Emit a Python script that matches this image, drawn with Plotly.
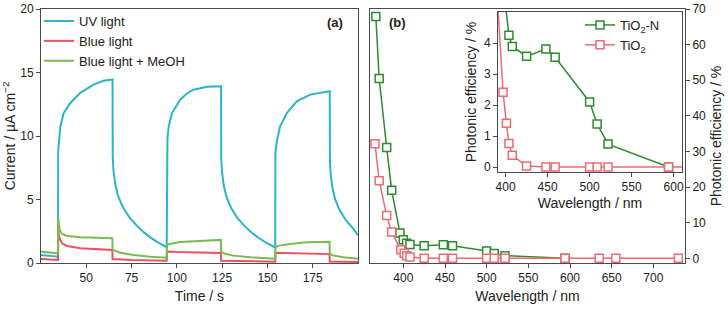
import plotly.graph_objects as go

# ---------------- Panel (a): photocurrent transients ----------------
uv_t = [25, 30, 34.4, 34.5, 34.8, 35.7, 37.5, 41.2, 46.7, 54.0, 59.5, 64.4,
        64.5, 64.6, 65.0, 66.0, 67.5, 70.0, 73.5, 77.5, 81.5, 85.5, 89.5, 94.4,
        94.5, 94.8, 95.5, 97.3, 101.8, 105.5, 109.2, 116.6, 124.3,
        124.4, 124.5, 124.9, 125.9, 127.4, 129.9, 133.4, 137.4, 141.4, 145.4, 149.4, 154.3,
        154.4, 155.2, 157.0, 160.7, 166.2, 173.6, 180.9, 184.3,
        184.4, 184.5, 184.9, 185.9, 187.4, 189.9, 193.4, 197.4, 200]
uv_i = [0.63, 0.56, 0.50, 8.9, 9.6, 10.76, 11.8, 12.6, 13.4, 14.05, 14.35, 14.45,
        14.45, 8.4, 7.3, 6.2, 5.3, 4.45, 3.65, 3.0, 2.45, 2.0, 1.62, 1.24,
        9.0, 9.8, 10.76, 11.8, 12.86, 13.35, 13.65, 13.87, 13.92,
        13.92, 8.3, 7.2, 6.1, 5.2, 4.35, 3.55, 2.9, 2.38, 1.95, 1.58, 1.22,
        8.7, 9.6, 10.76, 11.8, 12.73, 13.26, 13.47, 13.52,
        13.52, 8.1, 7.0, 5.9, 5.0, 4.15, 3.35, 2.7, 2.2]

blue_t = [25, 30, 34.4, 34.5, 35.3, 36.6, 39.4, 46.7, 55.9, 64.4,
          64.5, 75, 94.4, 94.5, 100, 110, 124.3, 124.4, 140, 154.3,
          154.4, 170, 184.3, 184.4, 200]
blue_i = [0.32, 0.28, 0.24, 2.47, 1.95, 1.55, 1.34, 1.16, 1.08, 1.03,
          0.32, 0.24, 0.18, 0.90, 0.86, 0.82, 0.78, 0.18, 0.12, 0.10,
          0.80, 0.74, 0.70, 0.12, 0.08]

meoh_t = [25, 30, 34.4, 34.5, 35.3, 36.6, 39.4, 46.7, 55.9, 64.4,
          64.5, 66, 68.8, 76.1, 85.3, 94.4,
          94.5, 96, 101.8, 112.9, 118.4, 124.3,
          124.4, 126, 131.2, 140.5, 154.3,
          154.4, 156, 162.5, 171.7, 184.3,
          184.4, 186, 192, 200]
meoh_i = [0.89, 0.82, 0.76, 3.53, 2.6, 2.29, 2.13, 2.03, 1.97, 1.95,
          1.08, 0.95, 0.81, 0.63, 0.50, 0.42,
          1.42, 1.50, 1.65, 1.76, 1.80, 1.82,
          0.89, 0.75, 0.58, 0.45, 0.34,
          1.24, 1.35, 1.50, 1.63, 1.68,
          0.76, 0.60, 0.45, 0.34]

# ---------------- Panel (b): photonic efficiency ----------------
tin_wl = [367, 371, 380, 386, 396, 400, 404, 408, 425, 448, 459, 500, 509, 522, 594]
tin_pe = [67.9, 50.5, 31.1, 19.1, 7.1, 5.2, 4.25, 3.89, 3.57, 3.81, 3.54, 2.1, 1.39, 0.74, 0.0]

tio_wl = [366, 371, 380, 386, 397, 401, 404, 408, 425, 448, 459, 500, 509, 522, 594, 635, 655, 730]
tio_pe = [32.2, 21.8, 12.0, 7.4, 2.41, 1.41, 0.76, 0.38, 0.03, 0.0, 0.0, 0.0, 0.0, 0.0, 0.0, 0.0, 0.0, 0.0]

a_xticks = [50, 75, 100, 125, 150, 175]
a_yticks = [0, 5, 10, 15, 20]
b_xticks = [400, 450, 500, 550, 600, 650, 700]
b_yticks = [0, 10, 20, 30, 40, 50, 60, 70]
in_xticks = [400, 450, 500, 550, 600]
in_yticks = [0, 1, 2, 3, 4]

C_UV = "#2ab4cb"
C_BL = "#e9525e"
C_ME = "#7aba54"
C_TN = "#2e8b2e"
C_TO = "#ec6b75"
FRAME = "#4a4a4a"
FONT = "Liberation Sans, Arial, sans-serif"

W, H = 728, 309

fig = go.Figure()

fig.add_trace(go.Scatter(x=uv_t, y=uv_i, mode="lines", name="UV light",
                         line=dict(color=C_UV, width=2), xaxis="x", yaxis="y", legend="legend"))
fig.add_trace(go.Scatter(x=blue_t, y=blue_i, mode="lines", name="Blue light",
                         line=dict(color=C_BL, width=2), xaxis="x", yaxis="y", legend="legend"))
fig.add_trace(go.Scatter(x=meoh_t, y=meoh_i, mode="lines", name="Blue light + MeOH",
                         line=dict(color=C_ME, width=2), xaxis="x", yaxis="y", legend="legend"))

mk = dict(symbol="square", size=8, color="white")
# main panel (b)
fig.add_trace(go.Scatter(x=tin_wl, y=tin_pe, mode="lines+markers", showlegend=False,
                         line=dict(color=C_TN, width=1.5),
                         marker=dict(**mk, line=dict(color=C_TN, width=1.5)),
                         xaxis="x2", yaxis="y2"))
fig.add_trace(go.Scatter(x=tio_wl, y=tio_pe, mode="lines+markers", showlegend=False,
                         line=dict(color=C_TO, width=1.5),
                         marker=dict(**mk, line=dict(color=C_TO, width=1.5)),
                         xaxis="x2", yaxis="y2"))
# inset
fig.add_trace(go.Scatter(x=tin_wl, y=tin_pe, mode="lines+markers", name="TiO<sub>2</sub>-N",
                         line=dict(color=C_TN, width=1.5),
                         marker=dict(**mk, line=dict(color=C_TN, width=1.5)),
                         xaxis="x3", yaxis="y3", legend="legend2"))
fig.add_trace(go.Scatter(x=tio_wl, y=tio_pe, mode="lines+markers", name="TiO<sub>2</sub>",
                         line=dict(color=C_TO, width=1.5),
                         marker=dict(**mk, line=dict(color=C_TO, width=1.5)),
                         xaxis="x3", yaxis="y3", legend="legend2"))

ax_common = dict(showline=True, linecolor=FRAME, linewidth=1, mirror=True,
                 ticks="outside", ticklen=4, tickcolor=FRAME, showgrid=False,
                 zeroline=False, automargin=False,
                 tickfont=dict(size=12, color="#222"),
                 title_font=dict(size=14, color="#222"))


def px_x(a, b):
    return [a / W, b / W]


def px_y(top, bottom):
    return [1 - bottom / H, 1 - top / H]


fig.update_layout(
    width=W, height=H,
    margin=dict(l=0, r=0, t=0, b=0),
    paper_bgcolor="white", plot_bgcolor="white",
    font=dict(family=FONT, color="#222"),
    xaxis=dict(domain=px_x(41, 358), range=[25, 200], tickvals=a_xticks,
               anchor="y", title=dict(text="Time / s", standoff=6), **ax_common),
    yaxis=dict(domain=px_y(9, 263), range=[0, 20], tickvals=a_yticks,
               anchor="x", title=dict(text="Current / µA cm<sup>−2</sup>", standoff=6), **ax_common),
    xaxis2=dict(domain=px_x(370, 685), range=[360, 738], tickvals=b_xticks,
                anchor="y2", title=dict(text="Wavelength / nm", standoff=6), **ax_common),
    yaxis2=dict(domain=px_y(9, 263), range=[-1.3, 70], tickvals=b_yticks,
                anchor="x2", side="right",
                title=dict(text="Photonic efficiency / %", standoff=6), **ax_common),
    xaxis3=dict(domain=px_x(498, 682), range=[391, 610], tickvals=in_xticks,
                anchor="y3", title=dict(text="Wavelength / nm", standoff=4), **ax_common),
    yaxis3=dict(domain=px_y(12, 172), range=[-0.16, 5.0], tickvals=in_yticks,
                anchor="x3", title=dict(text="Photonic efficiency / %", standoff=4), **ax_common),
    legend=dict(x=39 / W, y=1 - 6 / H, xanchor="left", yanchor="top",
                bgcolor="rgba(0,0,0,0)", font=dict(size=13, color="#222"),
                tracegroupgap=0, itemwidth=30),
    legend2=dict(x=580 / W, y=1 - 10 / H, xanchor="left", yanchor="top",
                 bgcolor="rgba(0,0,0,0)", font=dict(size=13, color="#222"),
                 tracegroupgap=0, itemwidth=30),
    annotations=[
        dict(text="<b>(a)</b>", x=335 / W, y=1 - 22 / H, xref="paper", yref="paper",
             xanchor="center", yanchor="middle",
             showarrow=False, font=dict(size=13, color="#222")),
        dict(text="<b>(b)</b>", x=398 / W, y=1 - 22 / H, xref="paper", yref="paper",
             xanchor="center", yanchor="middle",
             showarrow=False, font=dict(size=13, color="#222")),
    ],
)

fig.write_html("out.html", config={"displayModeBar": False},
               post_script="document.body.style.margin='0';document.body.style.overflow='hidden';")
